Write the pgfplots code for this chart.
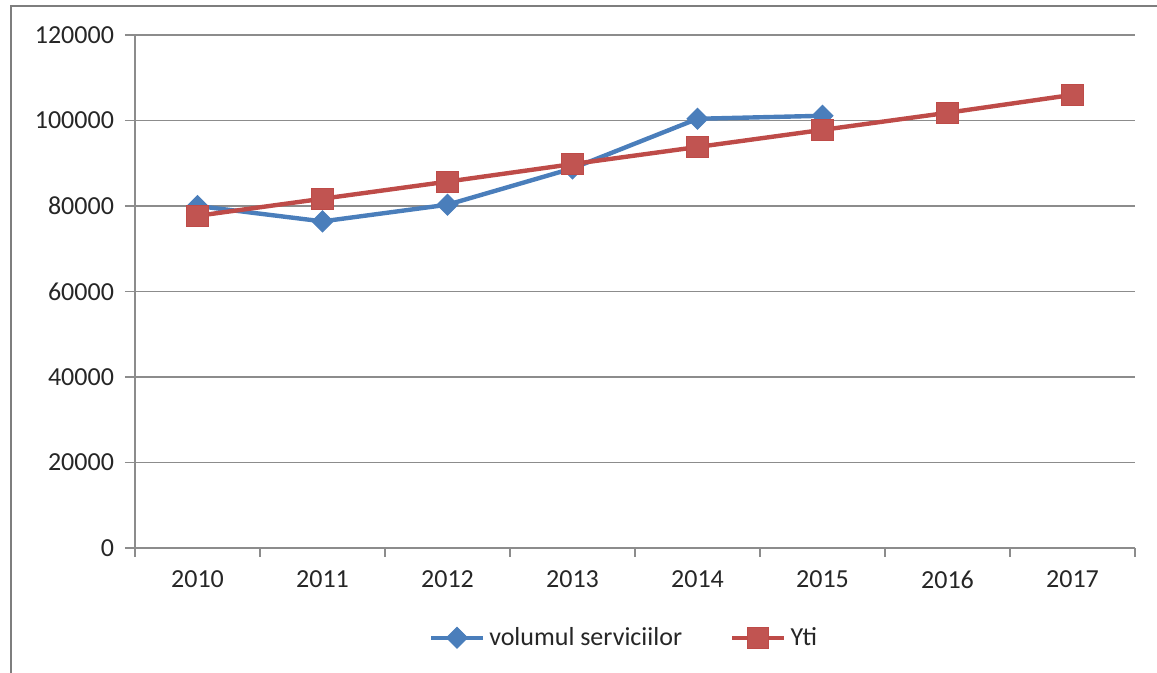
\documentclass[border=0pt]{standalone}
\usepackage{pgfplots}
\pgfplotsset{compat=1.18}
\usepackage{fontspec}
\setmainfont{Carlito}
\definecolor{bluel}{HTML}{4A7EBB}
\definecolor{redl}{HTML}{BE4B48}
\definecolor{gridc}{HTML}{8C8C8C}
\begin{document}
\begin{tikzpicture}[x=1pt,y=1pt]
\path[use as bounding box] (0,0) rectangle (578.5,336.5);
\draw[gridc!90!black, line width=1.4pt] (5.5,0) -- (5.5,333.5) -- (578.5,333.5);
\begin{axis}[
  at={(67.5pt,62.5pt)}, anchor=south west,
  scale only axis, width=500pt, height=256.5pt,
  xmin=-0.5, xmax=7.5, ymin=0, ymax=120000,
  axis x line*=bottom, axis y line*=left,
  axis line style={gridc, line width=0.6pt},
  xtick={0,...,7},
  xticklabels={2010,2011,2012,2013,2014,2015,2016,2017},
  minor xtick={-0.5,0.5,...,7.5},
  major x tick style={draw=none},
  minor tick length=4.5pt,
  minor x tick style={gridc, line width=0.6pt},
  ytick={0,20000,...,120000},
  major y tick style={gridc, line width=0.6pt},
  major tick length=5pt,
  tick align=outside,
  ymajorgrids,
  grid style={gridc, line width=0.6pt},
  scaled y ticks=false,
  /pgf/number format/assume math mode=true,
  yticklabel={\pgfmathprintnumber[fixed,1000 sep={}]{\tick}},
  ticklabel style={font=\fontsize{13}{15}\selectfont, text=black!85},
  yticklabel style={xshift=-2pt},
  xticklabel style={yshift=-3pt},
  legend style={at={(axis description cs:0.49,-0.175)}, anchor=center, draw=none,
    legend columns=2, font=\fontsize{13}{15}\selectfont, text=black!85,
    /tikz/every even column/.append style={column sep=22pt}},
  legend image code/.code={
    \draw[#1, mark repeat=2, mark phase=2] plot coordinates {(0pt,0pt) (13pt,0pt) (26pt,0pt)};
  },
]
\addplot[bluel, line width=2.2pt, mark=square*, mark size=3.7pt, mark options={rotate=45, fill=bluel, draw=bluel, line width=0.5pt}]
  coordinates {(0,80000) (1,76400) (2,80300) (3,88800) (4,100400) (5,101100)};
\addlegendentry{volumul serviciilor}
\addplot[redl, line width=2.2pt, mark=square*, mark size=5.3pt, mark options={fill=redl!95!white, draw=redl, line width=0.5pt}]
  coordinates {(0,77700) (1,81700) (2,85700) (3,89800) (4,93800) (5,97800) (6,101800) (7,106000)};
\addlegendentry{Yti}
\end{axis}
\end{tikzpicture}
\end{document}
